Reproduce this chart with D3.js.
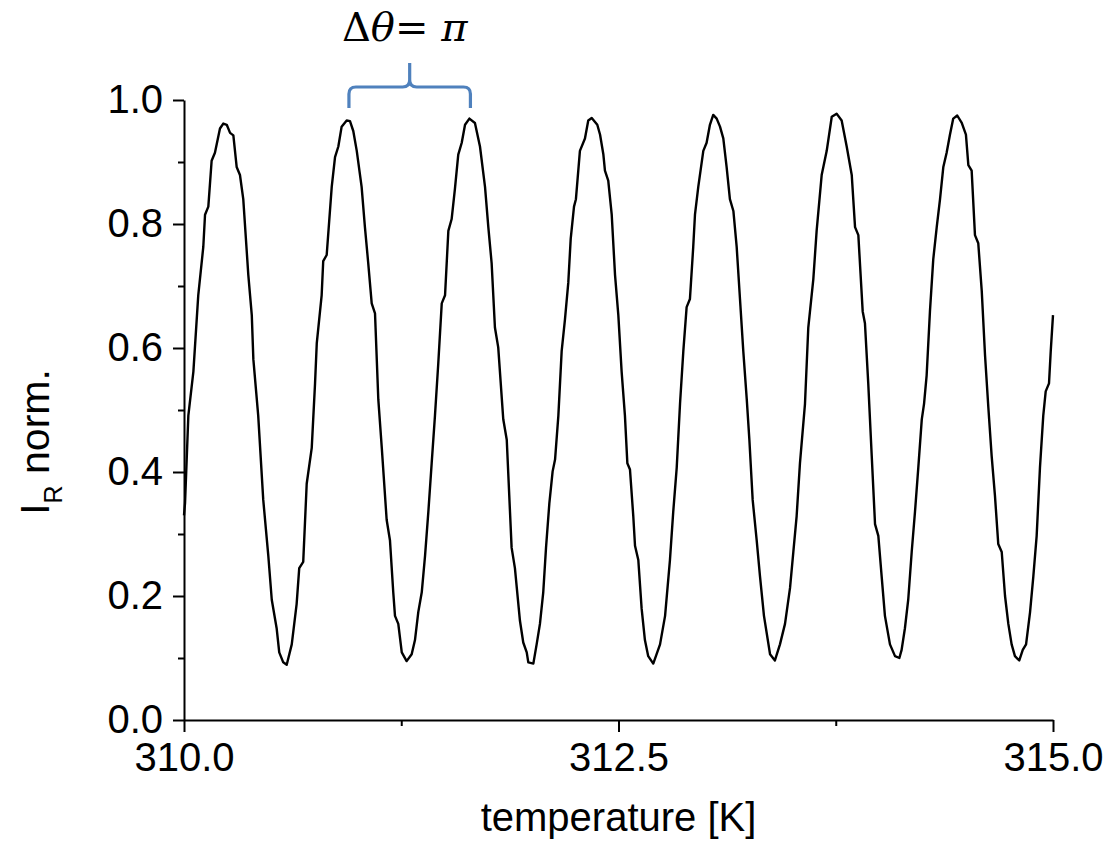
<!DOCTYPE html>
<html>
<head>
<meta charset="utf-8">
<script src="https://cdn.jsdelivr.net/npm/d3@7"></script>
<style>
  html, body { margin: 0; padding: 0; background: #fff; }
  svg { display: block; }
</style>
</head>
<body>
<svg id="chart"></svg>
<script>
// temperature [K] and normalised reflected intensity
const temperature = [
  310.000, 310.006, 310.025, 310.054, 310.082, 310.111, 310.121, 310.140, 310.159, 310.178,
  310.207, 310.226, 310.246, 310.265, 310.284, 310.303, 310.322, 310.341, 310.370, 310.390,
  310.399, 310.427, 310.456, 310.485, 310.505, 310.533, 310.548, 310.571, 310.591, 310.620,
  310.648, 310.663, 310.686, 310.706, 310.735, 310.754, 310.764, 310.792, 310.801, 310.821,
  310.850, 310.869, 310.888, 310.907, 310.936, 310.955, 310.974, 310.994, 311.022, 311.041,
  311.060, 311.080, 311.099, 311.118, 311.138, 311.166, 311.185, 311.204, 311.214, 311.233,
  311.253, 311.281, 311.310, 311.329, 311.348, 311.368, 311.387, 311.406, 311.425, 311.444,
  311.463, 311.483, 311.502, 311.521, 311.540, 311.559, 311.578, 311.598, 311.617, 311.642,
  311.674, 311.703, 311.732, 311.751, 311.770, 311.789, 311.808, 311.837, 311.857, 311.885,
  311.904, 311.933, 311.952, 311.972, 311.981, 312.010, 312.029, 312.048, 312.067, 312.083,
  312.102, 312.121, 312.135, 312.154, 312.173, 312.192, 312.211, 312.225, 312.244, 312.255,
  312.278, 312.307, 312.326, 312.346, 312.378, 312.394, 312.413, 312.422, 312.441, 312.461,
  312.480, 312.499, 312.518, 312.537, 312.551, 312.566, 312.585, 312.595, 312.614, 312.633,
  312.652, 312.671, 312.700, 312.739, 312.768, 312.796, 312.815, 312.835, 312.854, 312.873,
  312.892, 312.911, 312.930, 312.940, 312.959, 312.988, 313.007, 313.026, 313.045, 313.065,
  313.084, 313.103, 313.122, 313.141, 313.161, 313.180, 313.199, 313.218, 313.238, 313.253,
  313.272, 313.295, 313.314, 313.337, 313.372, 313.400, 313.429, 313.458, 313.487, 313.506,
  313.525, 313.544, 313.573, 313.592, 313.621, 313.640, 313.669, 313.698, 313.727, 313.755,
  313.784, 313.813, 313.842, 313.861, 313.880, 313.905, 313.918, 313.937, 313.957, 313.976,
  313.995, 314.014, 314.033, 314.062, 314.091, 314.116, 314.129, 314.148, 314.167, 314.187,
  314.206, 314.225, 314.245, 314.258, 314.273, 314.292, 314.311, 314.331, 314.350, 314.369,
  314.388, 314.407, 314.426, 314.449, 314.475, 314.499, 314.513, 314.532, 314.551, 314.570,
  314.590, 314.609, 314.628, 314.647, 314.666, 314.685, 314.705, 314.724, 314.743, 314.762,
  314.781, 314.806, 314.826, 314.845, 314.868, 314.887, 314.906, 314.925, 314.944, 314.958,
  314.977, 314.987, 315.000
]

const intensity = [
  0.330, 0.350, 0.491, 0.562, 0.685, 0.763, 0.815, 0.828, 0.902, 0.915,
  0.954, 0.962, 0.960, 0.947, 0.943, 0.892, 0.879, 0.840, 0.718, 0.653,
  0.582, 0.491, 0.355, 0.265, 0.194, 0.148, 0.109, 0.093, 0.089, 0.122,
  0.187, 0.245, 0.255, 0.381, 0.439, 0.543, 0.608, 0.685, 0.740, 0.750,
  0.860, 0.908, 0.925, 0.957, 0.967, 0.966, 0.950, 0.918, 0.860, 0.795,
  0.737, 0.672, 0.656, 0.517, 0.439, 0.323, 0.290, 0.206, 0.168, 0.155,
  0.109, 0.095, 0.106, 0.129, 0.174, 0.206, 0.265, 0.336, 0.414, 0.491,
  0.575, 0.672, 0.685, 0.789, 0.808, 0.857, 0.912, 0.931, 0.960, 0.970,
  0.963, 0.925, 0.860, 0.795, 0.737, 0.633, 0.601, 0.485, 0.452, 0.278,
  0.245, 0.160, 0.125, 0.109, 0.093, 0.091, 0.122, 0.155, 0.206, 0.278,
  0.349, 0.401, 0.420, 0.491, 0.595, 0.646, 0.705, 0.776, 0.828, 0.840,
  0.918, 0.938, 0.967, 0.971, 0.960, 0.944, 0.912, 0.886, 0.870, 0.815,
  0.718, 0.653, 0.562, 0.491, 0.414, 0.404, 0.329, 0.281, 0.258, 0.180,
  0.129, 0.103, 0.091, 0.122, 0.168, 0.258, 0.336, 0.407, 0.510, 0.595,
  0.666, 0.679, 0.763, 0.815, 0.860, 0.918, 0.931, 0.960, 0.976, 0.970,
  0.957, 0.938, 0.892, 0.840, 0.821, 0.763, 0.679, 0.595, 0.517, 0.452,
  0.355, 0.290, 0.232, 0.168, 0.106, 0.096, 0.122, 0.155, 0.213, 0.271,
  0.329, 0.414, 0.510, 0.633, 0.711, 0.789, 0.879, 0.918, 0.973, 0.978,
  0.967, 0.925, 0.879, 0.795, 0.782, 0.659, 0.640, 0.543, 0.426, 0.316,
  0.297, 0.232, 0.168, 0.122, 0.103, 0.100, 0.113, 0.148, 0.194, 0.271,
  0.336, 0.407, 0.485, 0.510, 0.556, 0.659, 0.743, 0.795, 0.840, 0.892,
  0.915, 0.944, 0.970, 0.975, 0.963, 0.944, 0.895, 0.886, 0.782, 0.769,
  0.692, 0.588, 0.504, 0.426, 0.362, 0.284, 0.271, 0.200, 0.155, 0.122,
  0.103, 0.096, 0.113, 0.122, 0.174, 0.232, 0.297, 0.407, 0.491, 0.530,
  0.543, 0.595, 0.653
]

const xTicks = [310, 312.5, 315]
const xMinorTicks = [311.25, 313.75]
const yTicks = [0, 0.2, 0.4, 0.6, 0.8, 1.0]
const yMinorTicks = [0.1, 0.3, 0.5, 0.7, 0.9]

// the two neighbouring maxima bracketed by the annotation
const braceRange = [310.949, 311.648]
const braceLabel = ['Δ', 'θ', '= ', 'π']

const width = 1108
const height = 844
const margin = { top: 100, right: 55, bottom: 123, left: 184 }
const labelFont = '"Liberation Sans", Arial, sans-serif'
const blue = '#4f81bd'

const svg = d3.select('#chart')
  .attr('width', width)
  .attr('height', height)

const x = d3.scaleLinear()
  .domain([310, 315])
  .range([margin.left, width - margin.right])

const y = d3.scaleLinear()
  .domain([0, 1])
  .range([height - margin.bottom - 1, margin.top])

// minor ticks first, majors + domain on top
svg.append('g')
  .attr('transform', 'translate(0,' + y(0) + ')')
  .call(d3.axisBottom(x).tickValues(xMinorTicks).tickSize(6).tickFormat(''))
  .call((g) => g.select('.domain').remove())

svg.append('g')
  .attr('transform', 'translate(' + x(310) + ',0)')
  .call(d3.axisLeft(y).tickValues(yMinorTicks).tickSize(6).tickFormat(''))
  .call((g) => g.select('.domain').remove())

svg.append('g')
  .attr('transform', 'translate(0,' + y(0) + ')')
  .call(
    d3.axisBottom(x)
      .tickValues(xTicks)
      .tickSize(12)
      .tickSizeOuter(0)
      .tickPadding(11)
      .tickFormat(d3.format('.1f'))
  )

svg.append('g')
  .attr('transform', 'translate(' + x(310) + ',0)')
  .call(
    d3.axisLeft(y)
      .tickValues(yTicks)
      .tickSize(11)
      .tickSizeOuter(0)
      .tickPadding(10)
      .tickFormat(d3.format('.1f'))
  )

svg.selectAll('.tick line, .domain')
  .attr('stroke', '#000')
  .attr('stroke-width', 2)

svg.selectAll('.tick text')
  .attr('fill', '#000')
  .style('font-family', labelFont)
  .style('font-size', '40px')

// data trace
const line = d3.line()
  .x((d, i) => x(temperature[i]))
  .y((d) => y(d))

svg.append('path')
  .datum(intensity)
  .attr('fill', 'none')
  .attr('stroke', '#000')
  .attr('stroke-width', 2.4)
  .attr('stroke-linejoin', 'round')
  .attr('d', line)

// axis titles
svg.append('text')
  .attr('x', (x.range()[0] + x.range()[1]) / 2)
  .attr('y', 831)
  .attr('text-anchor', 'middle')
  .style('font-family', labelFont)
  .style('font-size', '40px')
  .text('temperature [K]')

const yTitle = svg.append('text')
  .attr('transform', 'translate(49,442) rotate(-90)')
  .attr('text-anchor', 'middle')
  .style('font-family', labelFont)
  .style('font-size', '41px')
yTitle.append('tspan').text('I')
yTitle.append('tspan').attr('dy', 13).style('font-size', '25px').text('R')
yTitle.append('tspan').attr('dy', -13).text(' norm.')

// brace over one period
const bx0 = x(braceRange[0])
const bx1 = x(braceRange[1])
const bm = (bx0 + bx1) / 2
const bBottom = 108
const bBar = 87
const bTop = 63
const r = 7

svg.append('path')
  .attr('fill', 'none')
  .attr('stroke', blue)
  .attr('stroke-width', 3.2)
  .attr('d',
    'M' + bx0 + ',' + bBottom +
    'V' + (bBar + r) +
    'Q' + bx0 + ',' + bBar + ' ' + (bx0 + r) + ',' + bBar +
    'H' + (bm - r) +
    'Q' + bm + ',' + bBar + ' ' + bm + ',' + (bBar - r) +
    'V' + bTop +
    'M' + bm + ',' + (bBar - r) +
    'Q' + bm + ',' + bBar + ' ' + (bm + r) + ',' + bBar +
    'H' + (bx1 - r) +
    'Q' + bx1 + ',' + bBar + ' ' + bx1 + ',' + (bBar + r) +
    'V' + bBottom
  )

const note = svg.append('text')
  .attr('x', bm - 5)
  .attr('y', 41)
  .attr('text-anchor', 'middle')
  .style('font-family', '"DejaVu Serif", "Liberation Serif", serif')
  .style('font-size', '40px')
  .attr('fill', '#000')

braceLabel.forEach((s) => {
  note.append('tspan')
    .style('font-style', s === 'θ' || s === 'π' ? 'italic' : 'normal')
    .text(s)
})
</script>
</body>
</html>
